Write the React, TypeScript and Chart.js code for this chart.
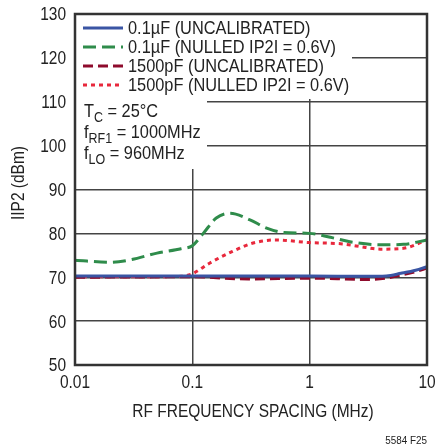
import React, { useEffect, useRef } from "react";
import { Chart, registerables } from "chart.js";

Chart.register(...registerables);

const xTicks = [0.01, 0.1, 1, 10];
const xTickLabels = ["0.01", "0.1", "1", "10"];
const yTicks = [50, 60, 70, 80, 90, 100, 110, 120, 130];

const blueFreq = [0.01, 0.1, 1, 3, 4.5, 6, 8, 10];
const blueVals = [70.3, 70.3, 70.3, 70.2, 70.3, 70.9, 71.6, 72.4];

const greenFreq = [0.01, 0.02, 0.03, 0.05, 0.08, 0.1, 0.124, 0.16, 0.21, 0.31, 0.43, 0.6, 1.0, 1.5, 2.2, 4.0, 6.3, 10];
const greenVals = [73.9, 73.4, 74.0, 75.5, 76.5, 77.2, 80.0, 83.5, 84.6, 83.1, 81.2, 80.2, 80.0, 79.1, 78.1, 77.4, 77.5, 78.5];

const darkRedFreq = [0.01, 0.1, 0.3, 1, 3, 4.5, 6, 8, 10];
const darkRedVals = [70.0, 70.1, 69.6, 69.8, 69.5, 69.8, 70.5, 71.3, 72.1];

const redFreq = [0.01, 0.03, 0.08, 0.1, 0.14, 0.22, 0.33, 0.52, 1.0, 1.9, 3.0, 4.0, 6.3, 10];
const redVals = [70.1, 70.1, 70.2, 70.8, 73.2, 75.9, 77.8, 78.5, 77.9, 77.6, 76.8, 76.4, 76.6, 78.5];

const legendLabels = [
  "0.1µF (UNCALIBRATED)",
  "0.1µF (NULLED IP2I = 0.6V)",
  "1500pF (UNCALIBRATED)",
  "1500pF (NULLED IP2I = 0.6V)",
];

const FONT = "'Liberation Sans', Arial, sans-serif";
const SX = 0.86;
const TEXT = "#222222";
const BLUE = "#3a55a4";
const GREEN = "#2f8c4b";
const DARKRED = "#8e0b2c";
const RED = "#e8283c";

const pts = (f: number[], v: number[]) => f.map((x, i) => ({ x, y: v[i] }));

const styles = [
  { color: BLUE, dash: [] as number[] },
  { color: GREEN, dash: [13, 6] },
  { color: DARKRED, dash: [10, 5] },
  { color: RED, dash: [4, 4] },
];

// draws condensed text; returns advance width
function txt(ctx: any, s: string, x: number, y: number, size: number, align = "left", base = "middle") {
  ctx.save();
  ctx.font = `${size}px ${FONT}`;
  ctx.textBaseline = base;
  ctx.textAlign = align;
  ctx.translate(x, y);
  ctx.scale(SX, 1);
  ctx.fillText(s, 0, 0);
  const w = ctx.measureText(s).width * SX;
  ctx.restore();
  return w;
}

const overlay = {
  id: "overlay",
  beforeDatasetsDraw(chart: any) {
    const { ctx, chartArea } = chart;
    const L = chartArea.left;
    const T = chartArea.top;
    ctx.save();
    ctx.fillStyle = "#ffffff";
    ctx.fillRect(L + 1, T + 1, 352 - L - 1, 99 - T - 1);
    ctx.fillRect(L + 1, T + 1, 207 - L - 1, 169 - T - 1);
    ctx.restore();
  },
  afterDraw(chart: any) {
    const { ctx, chartArea, scales } = chart;
    ctx.save();
    ctx.fillStyle = TEXT;
    // frame
    ctx.strokeStyle = "#333333";
    ctx.lineWidth = 2.5;
    ctx.strokeRect(chartArea.left, chartArea.top, chartArea.right - chartArea.left, chartArea.bottom - chartArea.top);

    // tick labels
    yTicks.forEach((v) => {
      txt(ctx, String(v), 66, scales.y.getPixelForValue(v) + 1.5, 18, "right");
    });
    xTicks.forEach((v, i) => {
      txt(ctx, xTickLabels[i], scales.x.getPixelForValue(v), 383, 18, "center");
    });

    // legend
    const rows = [28, 47, 66, 85];
    rows.forEach((y, i) => {
      const s = styles[i];
      ctx.strokeStyle = s.color;
      ctx.lineWidth = 3;
      ctx.setLineDash(s.dash);
      ctx.beginPath();
      ctx.moveTo(83, y);
      ctx.lineTo(123, y);
      ctx.stroke();
      ctx.setLineDash([]);
      txt(ctx, legendLabels[i], 128, y + 1, 19);
    });

    // annotation with subscripts
    const sub = (x: number, y: number, main: string, s: string, rest: string) => {
      let w = txt(ctx, main, x, y, 19, "left", "alphabetic");
      w += txt(ctx, s, x + w, y + 5, 14.5, "left", "alphabetic");
      txt(ctx, rest, x + w, y, 19, "left", "alphabetic");
    };
    sub(84, 117, "T", "C", " = 25°C");
    sub(84, 138, "f", "RF1", " = 1000MHz");
    sub(84, 159, "f", "LO", " = 960MHz");

    // axis titles
    txt(ctx, "RF FREQUENCY SPACING (MHz)", 253, 412, 18, "center");
    ctx.save();
    ctx.translate(19, 183);
    ctx.rotate(-Math.PI / 2);
    txt(ctx, "IIP2 (dBm)", 0, 0, 18, "center");
    ctx.restore();

    txt(ctx, "5584 F25", 427, 441, 11.5, "right");
    ctx.restore();
  },
};

export default function App() {
  const ref = useRef<HTMLCanvasElement>(null);
  useEffect(() => {
    if (!ref.current) return;
    const mk = (label: string, f: number[], v: number[], i: number) => ({
      label,
      data: pts(f, v),
      borderColor: styles[i].color,
      backgroundColor: styles[i].color,
      borderDash: styles[i].dash,
      borderWidth: 3,
      pointRadius: 0,
      cubicInterpolationMode: "monotone" as const,
      fill: false,
    });
    const chart = new Chart(ref.current, {
      type: "line",
      data: {
        datasets: [
          mk(legendLabels[0], blueFreq, blueVals, 0),
          mk(legendLabels[1], greenFreq, greenVals, 1),
          mk(legendLabels[2], darkRedFreq, darkRedVals, 2),
          mk(legendLabels[3], redFreq, redVals, 3),
        ],
      },
      options: {
        responsive: false,
        animation: false,
        layout: { padding: { left: 0, right: 10, top: 14, bottom: 0 } },
        plugins: { legend: { display: false }, tooltip: { enabled: false } },
        scales: {
          x: {
            type: "logarithmic",
            min: 0.01,
            max: 10,
            afterBuildTicks: (s: any) => {
              s.ticks = xTicks.map((v) => ({ value: v }));
            },
            afterFit: (s: any) => {
              s.height = 82;
            },
            ticks: { display: false },
            grid: { color: "#444444", lineWidth: 1.5, drawTicks: false },
            border: { display: false },
          },
          y: {
            type: "linear",
            min: 50,
            max: 130,
            afterBuildTicks: (s: any) => {
              s.ticks = yTicks.map((v) => ({ value: v }));
            },
            afterFit: (s: any) => {
              s.width = 75;
            },
            ticks: { display: false },
            grid: { color: "#444444", lineWidth: 1.5, drawTicks: false },
            border: { display: false },
          },
        },
      },
      plugins: [overlay],
    });
    return () => chart.destroy();
  }, []);
  return (
    <div style={{ position: "fixed", left: 0, top: 0, width: 437, height: 447, background: "#fff" }}>
      <canvas ref={ref} width={437} height={447} style={{ display: "block" }} />
    </div>
  );
}
